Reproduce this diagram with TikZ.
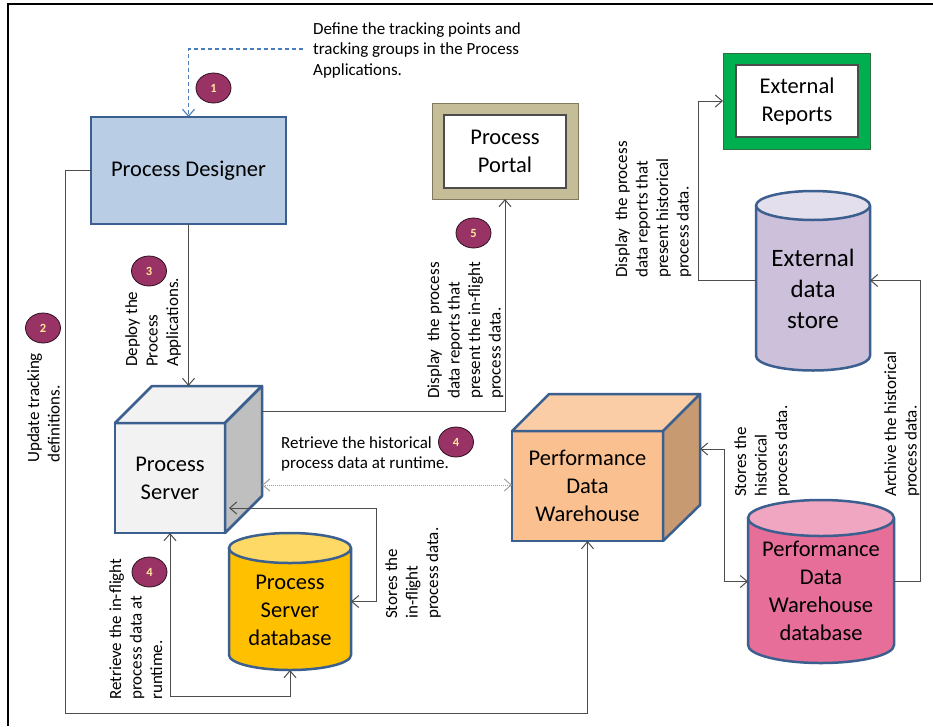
\documentclass[tikz,border=0pt]{standalone}
\usepackage{fontspec}
\setmainfont{Carlito}
\usetikzlibrary{arrows.meta,calc,shapes.geometric}

\definecolor{edgeblue}{HTML}{3B5F8E}
\definecolor{designerfill}{HTML}{B9CDE5}
\definecolor{portaltan}{HTML}{C4BD97}
\definecolor{portaledge}{HTML}{7F7A5E}
\definecolor{repgreen}{HTML}{00B050}
\definecolor{repedge}{HTML}{2E6E40}
\definecolor{edsbody}{HTML}{CCC0DA}
\definecolor{edstop}{HTML}{E4DFEC}
\definecolor{pdwdbbody}{HTML}{E66E98}
\definecolor{pdwdbtop}{HTML}{F0A6C1}
\definecolor{psdbbody}{HTML}{FFC000}
\definecolor{psdbtop}{HTML}{FFD966}
\definecolor{psfront}{HTML}{F2F2F2}
\definecolor{psside}{HTML}{BFBFBF}
\definecolor{pdwfront}{HTML}{FAC090}
\definecolor{pdwtop}{HTML}{FBCDA6}
\definecolor{pdwside}{HTML}{C89A72}
\definecolor{badgefill}{HTML}{993366}
\definecolor{badgeedge}{HTML}{2B1020}
\definecolor{badgetext}{HTML}{FFE699}
\definecolor{linegray}{HTML}{4D4D4D}
\definecolor{dotgray}{HTML}{A0A0A0}
\definecolor{dashblue}{HTML}{4A7EBB}

\tikzset{
  bigtext/.style={font=\fontsize{22.5}{28}\selectfont, align=center},
  conn/.style={draw=linegray, line width=1pt},
  tip/.style={-{Straight Barb[length=7pt,width=12pt]}},
  bothtip/.style={{Straight Barb[length=7pt,width=12pt]}-{Straight Barb[length=7pt,width=12pt]}},
  dashconn/.style={draw=dashblue, line width=1.1pt, dash pattern=on 4pt off 3pt,
     -{Straight Barb[length=7pt,width=12pt]}},
  dotconn/.style={draw=dotgray, line width=1pt, dash pattern=on 1pt off 1pt,
     {Straight Barb[length=7pt,width=12pt]}-{Straight Barb[length=7pt,width=12pt]}},
  badge/.style={ellipse, minimum width=35pt, minimum height=30pt, inner sep=0pt,
     fill=badgefill, draw=badgeedge, line width=0.8pt, text=badgetext,
     font=\bfseries\fontsize{12.5}{12.5}\selectfont},
  note/.style={font=\fontsize{17}{20.5}\selectfont, align=left, inner sep=0pt},
  vnote/.style={note, rotate=90, anchor=north west},
  cubeface/.style={draw=edgeblue, line width=2.5pt, line join=round},
  cyledge/.style={draw=edgeblue, line width=2.5pt, line join=round},
  cylbody/.style={minimum width=#1, inner sep=0pt, outer sep=0pt},
}

% cx rx yt yb ry body top
\newcommand\mycyl[7]{%
  \filldraw[cyledge, fill=#6] ({#1-#2},#3) -- ({#1-#2},#4)
    .. controls ({#1-#2},{#4+0.552*#5}) and ({#1-0.552*#2},{#4+#5}) .. (#1,{#4+#5})
    .. controls ({#1+0.552*#2},{#4+#5}) and ({#1+#2},{#4+0.552*#5}) .. ({#1+#2},#4)
    -- ({#1+#2},#3);
  \filldraw[cyledge, fill=#7] (#1,#3) ellipse [x radius=#2, y radius=#5];
}

\begin{document}
\begin{tikzpicture}[x=1pt,y=-1pt]
\useasboundingbox (0,0) rectangle (933,726);
\fill[white] (0,0) rectangle (933,726);
% frame
\draw[black, line width=1.5pt] (8,726) -- (8,4) -- (933,4);

% Process Designer
\node[draw=edgeblue, line width=2.5pt, fill=designerfill, minimum width=195pt,
      minimum height=107pt, outer sep=0pt, bigtext] (designer) at (188.5,170.5) {Process Designer};

% Process Portal
\node[draw=portaledge, line width=1pt, fill=portaltan, minimum width=146pt,
      minimum height=96pt, outer sep=0pt] (portal) at (505,151) {};
\node[draw=black!70, line width=1.5pt, fill=white, minimum width=122pt,
      minimum height=73pt, bigtext] (portalin) at (505,151.5) {Process\\Portal};

% External Reports
\node[draw=repedge, line width=1pt, fill=repgreen, minimum width=147pt,
      minimum height=96pt, outer sep=0pt] (extrep) at (796.5,101) {};
\node[draw=black!70, line width=1.5pt, fill=white, minimum width=122pt,
      minimum height=72pt, bigtext] (extrepin) at (797,101) {External\\Reports};

% Process Server cube
\node[fill=psfront, draw=edgeblue, line width=2.5pt, minimum width=110pt,
      minimum height=110pt, outer sep=0pt, bigtext] (ps) at (170,478) {Process\\Server};
\filldraw[cubeface, fill=psfront] (ps.north west) -- ++(37,-37) -- ++(110,0) -- (ps.north east) -- cycle;
\filldraw[cubeface, fill=psside] (ps.north east) -- ++(37,-37) -- ++(0,110) -- (ps.south east) -- cycle;
\coordinate (psback) at ($(ps.north west)+(37,-37)$);
\coordinate (psportal) at ($(ps.north east)+(37,-12)$);
\coordinate (psdot) at ($(ps.north east)+(37,62)$);
\coordinate (psdbin) at ($(ps.south east)+(4,-25)$);

% Performance Data Warehouse cube
\node[fill=pdwfront, draw=edgeblue, line width=2.5pt, minimum width=151pt,
      minimum height=110pt, outer sep=0pt, bigtext] (pdw) at (587.5,486) {Performance\\Data\\Warehouse};
\filldraw[cubeface, fill=pdwtop] (pdw.north west) -- ++(37,-37) -- ++(151,0) -- (pdw.north east) -- cycle;
\filldraw[cubeface, fill=pdwside] (pdw.north east) -- ++(37,-37) -- ++(0,111) -- (pdw.south east) -- cycle;
\coordinate (pdwside) at ($(pdw.north east)+(37,18)$);

% cylinders
\mycyl{290}{61}{548}{655}{15}{psdbbody}{psdbtop}
\node[cylbody=122pt, minimum height=137pt,
      label={[bigtext, yshift=-8.5pt]center:{Process\\Server\\database}}] (psdb) at (290,601.5) {};

\mycyl{813}{57}{205.5}{356}{14.5}{edsbody}{edstop}
\node[cylbody=114pt, minimum height=179pt,
      label={[font=\fontsize{25}{31}\selectfont, align=center, yshift=-8.5pt]center:{External\\data\\store}}] (eds) at (813,280.5) {};

\mycyl{821}{73}{518}{645}{18}{pdwdbbody}{pdwdbtop}
\node[cylbody=146pt, minimum height=163pt,
      label={[bigtext, yshift=-9.5pt]center:{Performance\\Data\\Warehouse\\database}}] (pdwdb) at (821,581.5) {};

% badges
\node[badge] (b1) at (213.5,88) {1};
\node[badge] (b2) at (43,328) {2};
\node[badge] (b3) at (149,271) {3};
\node[badge] (b4a) at (456,442) {4};
\node[badge] (b4b) at (149.5,572) {4};
\node[badge] (b5) at (473.5,233) {5};

% texts
\node[note, anchor=north west] (t1) at (313,22) {Define the tracking points and\\tracking groups in the Process\\Applications.};
\node[note, anchor=north west] (t4a) at (281,436) {Retrieve the historical\\process data at runtime.};
\node[vnote] (t2) at (27,463) {Update tracking\\definitions.};
\node[vnote] (t3) at (125,367) {Deploy the\\Process\\Applications.};
\node[vnote] (t4b) at (109,700) {Retrieve the in-flight\\process data at\\runtime.};
\node[vnote] (t4c) at (385,619) {Stores the\\in-flight\\process data.};
\node[vnote] (t5) at (427,399) {Display\ \ the process\\data reports that\\present the in-flight\\process data.};
\node[vnote] (t6) at (615,278) {Display\ \ the process\\data reports that\\present historical\\process data.};
\node[vnote] (t7) at (734,497) {Stores the\\historical\\process data.};
\node[vnote] (t8) at (884,497) {Archive the historical\\process data.};

% connectors
\coordinate (dstart) at (303,49);
\draw[dashconn] (dstart) -| (designer.north);

\draw[conn, tip] (designer.south) -- (designer.south |- psback);

\coordinate (lowleft) at (65,713);
\draw[conn, tip] (designer.west) -| (lowleft) -| (pdw.south);

\draw[conn, tip] (psportal) -| (portal.south);

\coordinate (psdbturn) at (376,508);
\draw[conn, bothtip] (psdbin) -- (psdbturn) |- (psdb.east);

\coordinate (psdbbottom) at (290,696);
\draw[conn, bothtip] (psdb.south) -- (psdbbottom) -| (ps.south);

\draw[dotconn] (psdot) -- (psdot -| pdw.west);

\coordinate (pdwturn) at (724,449);
\draw[conn, bothtip] (pdwside) -- (pdwturn) |- (pdwdb.west);

\coordinate (archturn) at (920,581.5);
\draw[conn, tip] (pdwdb.east) -- (archturn) |- (eds.east);

\coordinate (extturn) at (698,280.5);
\draw[conn, tip] (eds.west) -- (extturn) |- (extrep.west);
\end{tikzpicture}
\end{document}
